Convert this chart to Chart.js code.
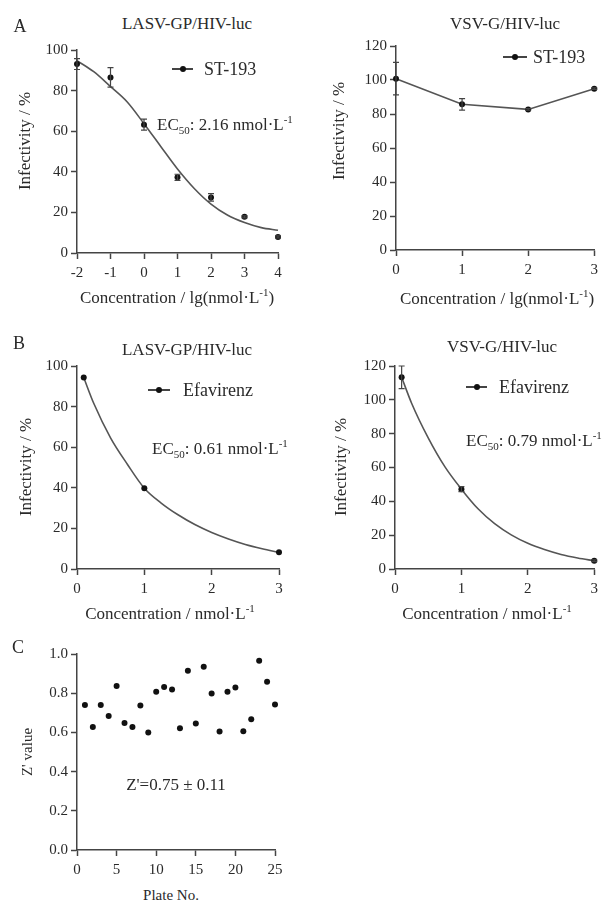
<!DOCTYPE html>
<html>
<head>
<meta charset="utf-8">
<script src="https://cdn.jsdelivr.net/npm/chart.js@4.4.1/dist/chart.umd.min.js"></script>
<style>
  body { margin: 0; background: #fff; width: 603px; height: 905px; position: relative; overflow: hidden;
         font-family: "Liberation Serif", serif; color: #2a2a2a; }
  canvas { position: absolute; }
  .c { position: absolute; white-space: nowrap; line-height: 1; font-size: 17px; transform: translate(-50%, -50%); }
  .l { position: absolute; white-space: nowrap; line-height: 1; font-size: 17px; transform: translateY(-50%); }
  .r { transform: translate(-50%, -50%) rotate(-90deg); }
  .mk { position: absolute; height: 1.5px; background: #444; }
  .mk::after { content: ""; position: absolute; left: 50%; top: 50%; width: 6px; height: 6px; margin: -3px 0 0 -3px;
               border-radius: 50%; background: #111; }
  sup, sub { font-size: 11px; line-height: 0; }
</style>
</head>
<body>
<canvas id="aLeft"></canvas>
<canvas id="aRight"></canvas>
<canvas id="bLeft"></canvas>
<canvas id="bRight"></canvas>
<canvas id="cPlot"></canvas>

<div class="c" style="left:20px;top:26px;font-size:18px">A</div>
<div class="c" style="left:19px;top:343px;font-size:18px">B</div>
<div class="c" style="left:18px;top:647px;font-size:18px">C</div>

<div class="c" style="left:187px;top:23px">LASV-GP/HIV-luc</div>
<div class="c" style="left:505px;top:23px">VSV-G/HIV-luc</div>
<div class="c" style="left:187px;top:349px">LASV-GP/HIV-luc</div>
<div class="c" style="left:502px;top:346px">VSV-G/HIV-luc</div>

<div class="c" style="left:177px;top:297px">Concentration / lg(nmol·L<sup>-1</sup>)</div>
<div class="c" style="left:497px;top:298px">Concentration / lg(nmol·L<sup>-1</sup>)</div>
<div class="c" style="left:170px;top:613px">Concentration / nmol·L<sup>-1</sup></div>
<div class="c" style="left:487px;top:613px">Concentration / nmol·L<sup>-1</sup></div>
<div class="c" style="left:171px;top:895px;font-size:15px">Plate No.</div>

<div class="c r" style="left:24px;top:141px">Infectivity / %</div>
<div class="c r" style="left:338px;top:131px">Infectivity / %</div>
<div class="c r" style="left:25px;top:467px">Infectivity / %</div>
<div class="c r" style="left:340px;top:467px">Infectivity / %</div>
<div class="c r" style="left:27px;top:752px;font-size:15px">Z' value</div>

<div class="mk" style="left:172px;top:68px;width:21px"></div>
<div class="l" style="left:204px;top:69px;font-size:18px">ST-193</div>
<div class="mk" style="left:503px;top:56px;width:24px"></div>
<div class="l" style="left:533px;top:57px;font-size:18px">ST-193</div>
<div class="mk" style="left:148px;top:389px;width:22px"></div>
<div class="l" style="left:183px;top:390px;font-size:18px">Efavirenz</div>
<div class="mk" style="left:466px;top:386px;width:21px"></div>
<div class="l" style="left:499px;top:387px;font-size:18px">Efavirenz</div>

<div class="l" style="left:157px;top:124px">EC<sub>50</sub>: 2.16 nmol·L<sup>-1</sup></div>
<div class="l" style="left:152px;top:448px">EC<sub>50</sub>: 0.61 nmol·L<sup>-1</sup></div>
<div class="l" style="left:466px;top:440px">EC<sub>50</sub>: 0.79 nmol·L<sup>-1</sup></div>
<div class="c" style="left:176px;top:784px">Z'=0.75 ± 0.11</div>

<script>
// A left: ST-193 on LASV-GP/HIV-luc (x = lg concentration)
const stLasvX = [-2, -1, 0, 1, 2, 3, 4];
const stLasvY = [93.1, 86.5, 63.2, 37.3, 27.4, 17.8, 7.9];
const stLasvErr = [2.7, 4.8, 2.7, 1.5, 1.8, 0.5, 0.5];
const stLasvFitX = [-2, -1.5, -1, -0.5, 0, 0.5, 1, 1.5, 2, 2.5, 3, 3.5, 4];
const stLasvFitY = [94.7, 89.3, 82, 74.4, 63.7, 52.5, 41.4, 31.8, 24.1, 18.6, 15, 12.5, 11.2];

// A right: ST-193 on VSV-G/HIV-luc
const stVsvX = [0, 1, 2, 3];
const stVsvY = [100.8, 85.7, 82.7, 94.9];
const stVsvErr = [9.6, 3.4, 0.5, 0.5];

// B left: Efavirenz on LASV-GP/HIV-luc (x = nmol/L)
const efLasvX = [0.1, 1, 3];
const efLasvY = [94.3, 39.8, 8.2];
const efLasvFitX = [0.1, 0.25, 0.5, 0.75, 1, 1.25, 1.5, 1.75, 2, 2.25, 2.5, 2.75, 3];
const efLasvFitY = [94.3, 81.5, 64.5, 51.5, 39.8, 32.5, 26.7, 21.9, 18, 14.8, 12.1, 10, 8.2];

// B right: Efavirenz on VSV-G/HIV-luc
const efVsvX = [0.1, 1, 3];
const efVsvY = [113.3, 47.2, 4.9];
const efVsvErr = [6.7, 1.5, 0.5];
const efVsvFitX = [0.1, 0.25, 0.5, 0.75, 1, 1.25, 1.5, 1.75, 2, 2.25, 2.5, 2.75, 3];
const efVsvFitY = [113.3, 98, 77.5, 60.5, 47.2, 35.6, 26.8, 20.2, 15.2, 11.5, 8.6, 6.5, 4.9];

// C: Z' factor per plate
const plates = [1, 2, 3, 4, 5, 6, 7, 8, 9, 10, 11, 12, 13, 14, 15, 16, 17, 18, 19, 20, 21, 22, 23, 24, 25];
const zValues = [0.740, 0.627, 0.740, 0.684, 0.837, 0.648, 0.627, 0.737, 0.600, 0.808, 0.831, 0.819, 0.621,
                 0.914, 0.646, 0.935, 0.798, 0.604, 0.808, 0.829, 0.606, 0.667, 0.965, 0.859, 0.742];

const pts = (xs, ys) => xs.map((x, i) => ({ x: x, y: ys[i] }));

const errorBars = {
  id: 'errorBars',
  afterDatasetsDraw(chart) {
    const ctx = chart.ctx;
    const xs = chart.scales.x, ys = chart.scales.y;
    chart.data.datasets.forEach(ds => {
      if (!ds.errors) return;
      ctx.save();
      ctx.strokeStyle = '#444';
      ctx.lineWidth = 1.2;
      ds.data.forEach((p, i) => {
        const e = ds.errors[i];
        if (!e) return;
        const px = xs.getPixelForValue(p.x);
        const top = ys.getPixelForValue(p.y + e);
        const bot = ys.getPixelForValue(p.y - e);
        ctx.beginPath();
        ctx.moveTo(px, top); ctx.lineTo(px, bot);
        ctx.moveTo(px - 3, top); ctx.lineTo(px + 3, top);
        ctx.moveTo(px - 3, bot); ctx.lineTo(px + 3, bot);
        ctx.stroke();
      });
      ctx.restore();
    });
  }
};

function axis(a, dir, size) {
  return {
    type: 'linear',
    min: a.min,
    max: a.max,
    afterFit(s) { if (dir === 'x') s.height = size; else s.width = size; },
    border: { display: true, color: '#444', width: 1.5 },
    grid: { drawOnChartArea: false, drawTicks: true, tickLength: 6, tickWidth: 1.5, tickColor: '#444' },
    ticks: {
      stepSize: a.step,
      padding: dir === 'x' ? 5 : 3,
      color: '#2a2a2a',
      font: { family: 'Liberation Serif', size: 15 },
      callback: a.fmt || (v => v)
    }
  };
}

// area = wanted plot box on the page: L, T, R, B
function drawPanel(id, area, xAxis, yAxis, datasets) {
  const c = document.getElementById(id);
  const padL = 60, padT = 15, padB = 35;
  const padR = Math.min(15, 603 - area.R);
  c.style.left = (area.L - padL) + 'px';
  c.style.top = (area.T - padT) + 'px';
  c.width = area.R - area.L + padL + padR;
  c.height = area.B - area.T + padT + padB;
  new Chart(c, {
    type: 'scatter',
    data: { datasets: datasets },
    options: {
      responsive: false,
      animation: false,
      layout: { padding: { left: 0, top: padT, right: padR, bottom: 0 } },
      plugins: { legend: { display: false }, tooltip: { enabled: false } },
      scales: { x: axis(xAxis, 'x', padB), y: axis(yAxis, 'y', padL) }
    },
    plugins: [errorBars]
  });
}

const dots = (data, errors, line) => ({
  data: data, errors: errors, showLine: !!line, borderColor: '#555', borderWidth: 1.6,
  pointRadius: 3, pointBackgroundColor: '#111', pointBorderWidth: 0, clip: false
});
const fit = data => ({
  data: data, showLine: true, pointRadius: 0, borderColor: '#555', borderWidth: 1.6,
  cubicInterpolationMode: 'monotone', clip: false
});

drawPanel('aLeft', { L: 77, T: 50, R: 278, B: 253 },
  { min: -2, max: 4, step: 1 }, { min: 0, max: 100, step: 20 },
  [dots(pts(stLasvX, stLasvY), stLasvErr), fit(pts(stLasvFitX, stLasvFitY))]);

drawPanel('aRight', { L: 396, T: 46, R: 597, B: 250 },
  { min: 0, max: 3, step: 1 }, { min: 0, max: 120, step: 20 },
  [dots(pts(stVsvX, stVsvY), stVsvErr, true)]);

drawPanel('bLeft', { L: 77, T: 366, R: 279, B: 569 },
  { min: 0, max: 3, step: 1 }, { min: 0, max: 100, step: 20 },
  [dots(pts(efLasvX, efLasvY)), fit(pts(efLasvFitX, efLasvFitY))]);

drawPanel('bRight', { L: 395, T: 366, R: 597, B: 569 },
  { min: 0, max: 3, step: 1 }, { min: 0, max: 120, step: 20 },
  [dots(pts(efVsvX, efVsvY), efVsvErr), fit(pts(efVsvFitX, efVsvFitY))]);

drawPanel('cPlot', { L: 77, T: 654, R: 275, B: 850 },
  { min: 0, max: 25, step: 5 }, { min: 0, max: 1, step: 0.2, fmt: v => v.toFixed(1) },
  [dots(pts(plates, zValues))]);
</script>
</body>
</html>
